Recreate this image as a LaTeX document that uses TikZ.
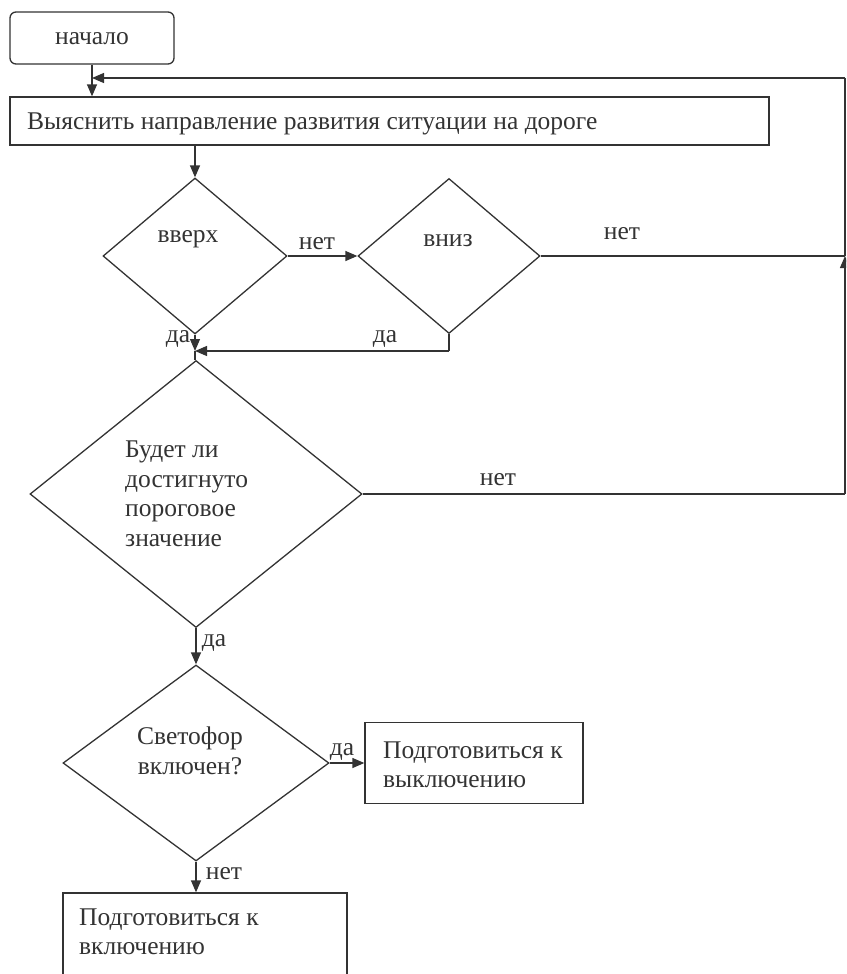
\documentclass[tikz,border=0pt]{standalone}
\usepackage{fontspec}
\setmainfont{Liberation Serif}
\usetikzlibrary{shapes.geometric,arrows.meta}
\definecolor{ink}{HTML}{333333}
\begin{document}
\begin{tikzpicture}[x=1pt,y=-1pt,
  every node/.style={font=\fontsize{25.5}{29.5}\selectfont, text=ink},
  line/.style={draw=ink, line width=1.3pt},
  arr/.style={line, -{Triangle[length=12pt,width=10pt]}},
  boxnode/.style={draw=ink, line width=1.3pt, rectangle, inner sep=0pt},
  decision/.style={draw=ink, line width=1.3pt, diamond, inner sep=0pt},
  lbl/.style={inner sep=0pt}
]
\clip (0,0) rectangle (846,974);
% nodes
\node[boxnode, rounded corners=6pt, minimum width=164pt, minimum height=52pt] (start) at (92,38) {};
\node[lbl] (starttxt) at (92,39) {начало};
\node[boxnode, minimum width=759pt, minimum height=48pt] (main) at (389.5,121) {};
\node[lbl, anchor=west] (maintxt) at (27,124) {Выяснить направление развития ситуации на дороге};
\node[decision, minimum width=184pt, minimum height=156pt] (up) at (195,256) {};
\node[lbl] (uptxt) at (188,239) {вверх};
\node[decision, minimum width=182pt, minimum height=155pt] (down) at (449,256) {};
\node[lbl] (downtxt) at (448,241) {вниз};
\node[decision, minimum width=332pt, minimum height=267pt] (will) at (196,494) {};
\node[lbl, anchor=west, align=left] (willtxt) at (125,494) {Будет ли\\достигнуто\\пороговое\\значение};
\node[decision, minimum width=266pt, minimum height=196pt] (light) at (196,763) {};
\node[lbl, align=center] (lighttxt) at (190,751) {Светофор\\включен?};
\node[boxnode, minimum width=218pt, minimum height=81pt] (off) at (474,763) {};
\node[lbl, anchor=west, align=left] (offtxt) at (383,765) {Подготовиться к\\выключению};
\node[boxnode, minimum width=284pt, minimum height=100pt] (on) at (205,943) {};
\node[lbl, anchor=west, align=left] (ontxt) at (79,932) {Подготовиться к\\включению};
% coordinates
\coordinate (J1) at (start.south |- 0,78);
\coordinate (R3) at (845,78);
\coordinate (R2) at (845,256);
\coordinate (R1) at (845,494);
\coordinate (J2) at (195,351);
\coordinate (D1) at (down.south |- J2);
% connectors
\draw[arr] (start.south) -- (start.south |- main.north);
\draw[arr] (main.south -| up.north) -- (up.north);
\draw[arr] (up.east) -- (down.west);
\draw[line] (down.east) -- (R2);
\draw[line] (will.east) -- (R1);
\draw[arr] (R1) -- (R2);
\draw[line] (R2) -- (R3);
\draw[arr] (R3) -- (J1);
\draw[line] (down.south) -- (D1);
\draw[arr] (D1) -- (J2);
\draw[arr] (up.south) -- (J2);
\draw[line] (J2) -- (J2 |- will.north);
\draw[arr] (will.south) -- (light.north);
\draw[arr] (light.east) -- (off.west);
\draw[arr] (light.south) -- (light.south |- on.north);
% labels
\node[lbl] (l1) at (317,244) {нет};
\node[lbl] (l2) at (178,339) {да};
\node[lbl] (l3) at (385,339) {да};
\node[lbl] (l4) at (622,234) {нет};
\node[lbl] (l5) at (498,480) {нет};
\node[lbl] (l6) at (214,643) {да};
\node[lbl] (l7) at (342,752) {да};
\node[lbl] (l8) at (224,874) {нет};
\end{tikzpicture}
\end{document}
